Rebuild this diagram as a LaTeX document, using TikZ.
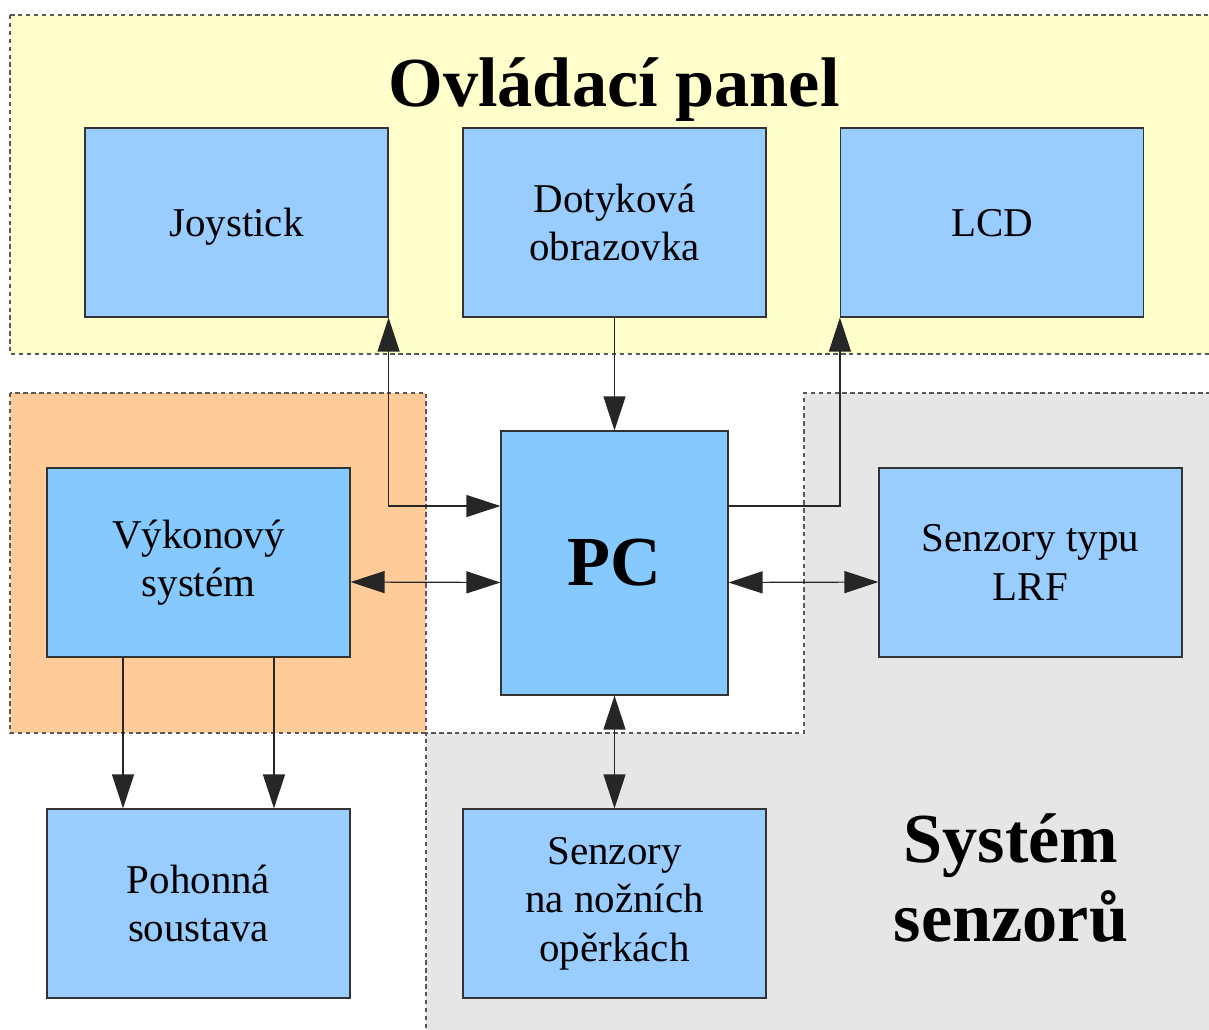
\documentclass[tikz,border=0pt]{standalone}
\usepackage{fontspec}
\setmainfont{Liberation Serif}
\usepackage{xcolor}
\usepackage{tikz}
\usetikzlibrary{arrows.meta, calc}
\definecolor{kyellow}{HTML}{FFFFCC}
\definecolor{korange}{HTML}{FFCC99}
\definecolor{kgray}{HTML}{E6E6E6}
\definecolor{kbox}{HTML}{99CCFF}
\definecolor{kpc}{HTML}{85C9FF}

\begin{document}
\begin{tikzpicture}[x=0.02cm, y=-0.02cm,
  zone/.style={draw=black!65, line width=0.6pt, dash pattern=on 2.5pt off 2pt},
  blok/.style={draw=black!80, line width=0.7pt, fill=kbox, inner sep=0pt, align=center,
    minimum width=6.06cm, minimum height=3.78cm, font=\fontsize{23.3}{27.5}\selectfont},
  radek/.style={text height=20.8pt, text depth=5pt},
  spoj/.style={line width=0.7pt, draw=black!85},
  nadpis/.style={font=\fontsize{40}{45.5}\selectfont\bfseries, align=center},
  >={Triangle[length=0.68cm, width=0.44cm]}]
\useasboundingbox (0,0) rectangle (1209,1030);
\filldraw[zone, fill=kyellow] (10,15) rectangle (1215,354);
\filldraw[zone, fill=korange] (10,393) rectangle (426,733);
\filldraw[zone, fill=kgray] (426,1036) -- (426,733) -- (804,733) -- (804,393) -- (1215,393)
  -- (1215,1036) -- cycle;

\node[nadpis] (ovl) at (614,90) {Ovládací panel};
\node[nadpis] (sys) at (1011,878) {Systém\\senzorů};

\node[blok, radek] (joy) at (236.5,222.5) {Joystick};
\node[blok] (dot) at (614.5,222.5) {Dotyková\\obrazovka};
\node[blok, radek] (lcd) at (992,222.5) {LCD};
\node[blok, fill=kpc] (vyk) at (198.5,562.5) {Výkonový\\systém};
\node[blok, fill=kpc, minimum width=4.54cm, minimum height=5.28cm,
  font=\fontsize{40}{45}\selectfont\bfseries] (pc) at (614.5,563) {PC};
\node[blok] (lrf) at (1030.5,562.5) {Senzory typu\\LRF};
\node[blok] (poh) at (198.5,903.5) {Pohonná\\soustava};
\node[blok] (sen) at (614.5,903.5) {Senzory\\na nožních\\opěrkách};

\draw[spoj, <->] (joy.south east) |- ([yshift=1.14cm]pc.west);
\draw[spoj, ->] (dot.south) -- (pc.north);
\draw[spoj, ->] ([yshift=1.14cm]pc.east) -| (lcd.south west);
\draw[spoj, <->] ([yshift=-0.39cm]vyk.east) -- ([yshift=-0.39cm]pc.west);
\draw[spoj, <->] ([yshift=-0.39cm]pc.east) -- ([yshift=-0.39cm]lrf.west);
\draw[spoj, <->] (pc.south) -- (sen.north);
\draw[spoj, ->] ([xshift=-1.51cm]vyk.south) -- ([xshift=-1.51cm]poh.north);
\draw[spoj, ->] ([xshift=1.51cm]vyk.south) -- ([xshift=1.51cm]poh.north);
\end{tikzpicture}
\end{document}
